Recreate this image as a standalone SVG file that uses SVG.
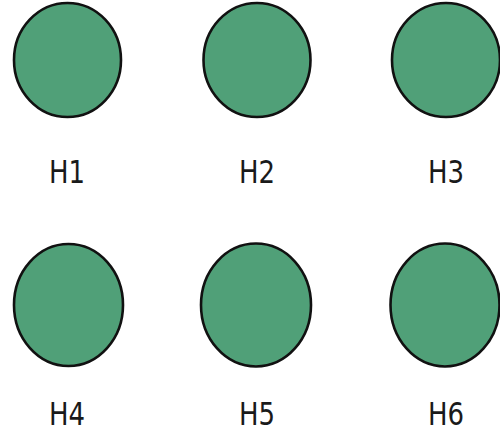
<svg xmlns="http://www.w3.org/2000/svg" width="500" height="434" viewBox="0 0 500 434">
<style>
.n{fill:#50a078;stroke:#111;stroke-width:2.6}
.t{font-family:"DejaVu Sans",sans-serif;font-size:26px;fill:#1a1a1a;text-anchor:middle}
</style>
<rect width="500" height="434" fill="#fff"/>
<g id="H1"><ellipse class="n" cx="67.5" cy="60" rx="53.5" ry="57"/><text class="t" transform="translate(67,183) scale(1,1.2)">H1</text></g>
<g id="H2"><ellipse class="n" cx="257" cy="60" rx="53.5" ry="57"/><text class="t" transform="translate(257,183) scale(1,1.2)">H2</text></g>
<g id="H3"><ellipse class="n" cx="446" cy="60" rx="54" ry="57"/><text class="t" transform="translate(446,183) scale(1,1.2)">H3</text></g>
<g id="H4"><ellipse class="n" cx="68.5" cy="305" rx="54.5" ry="61"/><text class="t" transform="translate(67,425) scale(1,1.2)">H4</text></g>
<g id="H5"><ellipse class="n" cx="256" cy="305" rx="55" ry="61.5"/><text class="t" transform="translate(257,425) scale(1,1.2)">H5</text></g>
<g id="H6"><ellipse class="n" cx="445" cy="305" rx="54.5" ry="61.5"/><text class="t" transform="translate(446,425) scale(1,1.2)">H6</text></g>
<g id="connectors"/>
</svg>
